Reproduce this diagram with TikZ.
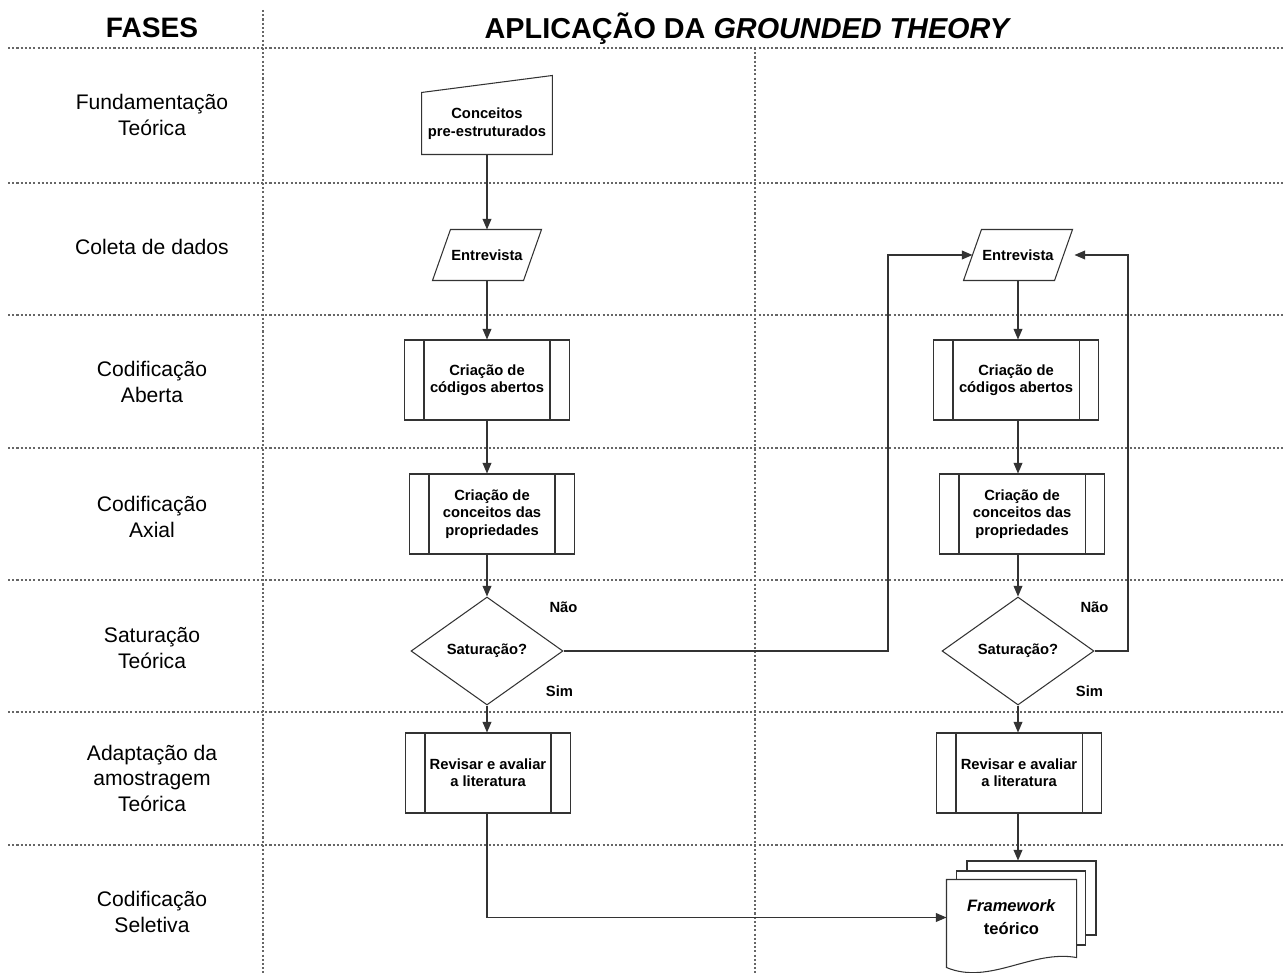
\documentclass[tikz,border=0pt]{standalone}
\usepackage{fontspec}
\setmainfont{Liberation Sans}
\usepackage{tikz}
\usetikzlibrary{shapes.geometric,arrows.meta}

\tikzset{
  proc/.style={draw, minimum width=3.3cm, minimum height=1.6cm, align=center, font=\fontsize{8.4}{9.9}\selectfont\bfseries},
  io/.style={minimum width=1.8cm, minimum height=1cm, align=center, font=\fontsize{8.4}{9.9}\selectfont\bfseries},
  dec/.style={draw, diamond, inner sep=0pt, minimum width=3.04cm, minimum height=2.16cm, font=\fontsize{8.4}{9.9}\selectfont\bfseries},
  phase/.style={align=center, font=\fontsize{12}{14.5}\selectfont},
  lbl/.style={font=\fontsize{8.4}{9.9}\selectfont\bfseries},
  grid/.style={black!60, line width=0.6pt, dash pattern=on 1.2pt off 1.2pt},
  doc/.style={draw, fill=white, minimum width=2.58cm, minimum height=1.48cm}
}

\begin{document}
\begin{tikzpicture}[x=0.02cm, y=-0.02cm, line width=0.6pt, draw=black!80,
  >={Triangle[length=6pt,width=5pt]}]
\useasboundingbox (0,0) rectangle (1288,973);

% lanes
\draw[grid] (263,10) -- (263,973);
\draw[grid] (755,48) -- (755,973);
\foreach \y in {48,183,315,448,580,712,845}
  \draw[grid] (8,\y) -- (1283,\y);

% header
\node[font=\fontsize{16}{18}\selectfont\bfseries] (fases) at (152,28) {FASES};
\node[font=\fontsize{16.4}{18}\selectfont\bfseries] (tit) at (748,29) {APLICAÇÃO DA \textit{GROUNDED THEORY}};

% phases
\node[phase] (ph1) at (152,115) {Fundamentação\\Teórica};
\node[phase] (ph2) at (152,247) {Coleta de dados};
\node[phase] (ph3) at (152,382) {Codificação\\Aberta};
\node[phase] (ph4) at (152,517) {Codificação\\Axial};
\node[phase] (ph5) at (152,648) {Saturação\\Teórica};
\node[phase] (ph6) at (152,778) {Adaptação da\\amostragem\\Teórica};
\node[phase] (ph7) at (152,912) {Codificação\\Seletiva};

% left column
\node[io, minimum width=2.52cm, minimum height=1.22cm] (mi) at (487,123.5) {Conceitos\\pre-estruturados};
\draw (mi.south west) -- (mi.north west) -- ([yshift=0.34cm]mi.north east) -- (mi.south east) -- cycle;
\node[io] (e1) at (487,255) {Entrevista};
\node[proc] (p1) at (487,380) {Criação de\\códigos abertos};
\node[proc] (q1) at (492,514) {Criação de\\conceitos das\\propriedades};
\node[dec] (d1) at (487,651) {Saturação?};
\node[proc] (r1) at (488,773) {Revisar e avaliar\\a literatura};
\node[lbl] (n1) at ([yshift=0.88cm]d1.east) {Não};
\node[lbl] (s1) at ([xshift=-0.08cm,yshift=-0.8cm]d1.east) {Sim};

% right column
\node[io] (e2) at (1018,255) {Entrevista};
\node[proc] (p2) at (1016,380) {Criação de\\códigos abertos};
\node[proc] (q2) at (1022,514) {Criação de\\conceitos das\\propriedades};
\node[dec] (d2) at (1018,651) {Saturação?};
\node[proc] (r2) at (1019,773) {Revisar e avaliar\\a literatura};
\node[lbl] (n2) at ([yshift=0.88cm]d2.east) {Não};
\node[lbl] (s2) at ([xshift=-0.1cm,yshift=-0.8cm]d2.east) {Sim};

\foreach \n in {e1,e2}
  \draw ([xshift=-0.18cm]\n.south west) -- ([xshift=0.18cm]\n.north west) -- ([xshift=0.18cm]\n.north east) -- ([xshift=-0.18cm]\n.south east) -- cycle;
\foreach \n in {p1,q1,r1,p2,q2,r2}
  \draw ([xshift=0.4cm]\n.north west) -- ([xshift=0.4cm]\n.south west)
        ([xshift=-0.4cm]\n.north east) -- ([xshift=-0.4cm]\n.south east);

% framework documents
\node[doc] (fw3) at (1031.5,898) {};
\node[doc] (fw2) at (1021,908) {};
\node[minimum width=2.58cm, minimum height=1.5cm] (fw) at (1011.5,917.5) {};
\draw[fill=white] (fw.north west) -- ([yshift=-0.24cm]fw.south west)
  .. controls +(43,18) and +(-45,-8) .. ([yshift=-0.04cm]fw.south east) -- (fw.north east) -- cycle;
\node[align=center, font=\fontsize{9.4}{13}\selectfont\bfseries] (fwt) at (fw) {\textit{Framework}\\teórico};

% connectors
\draw[->] (mi) -- (e1);
\draw[->] (e1) -- (p1);
\draw[->] (p1.south) -- (p1.south |- q1.north);
\draw[->] (p1.south |- q1.south) -- (d1);
\draw[->] (d1) -- (r1.north -| d1);
\draw[->] (d1.east) -- (888,651) |- (e2.west);
\draw[->] (e2) -- (e2 |- p2.north);
\draw[->] (e2 |- p2.south) -- (e2 |- q2.north);
\draw[->] (e2 |- q2.south) -- (d2);
\draw[->] (d2) -- (d2 |- r2.north);
\draw[->] (d2.east) -- (1128,651) |- ([xshift=0.22cm]e2.east);
\draw[->] (r1.south -| d1) |- (fw.west);
\draw[->] (d2 |- r2.south) -- (d2 |- fw3.north);
\end{tikzpicture}
\end{document}
